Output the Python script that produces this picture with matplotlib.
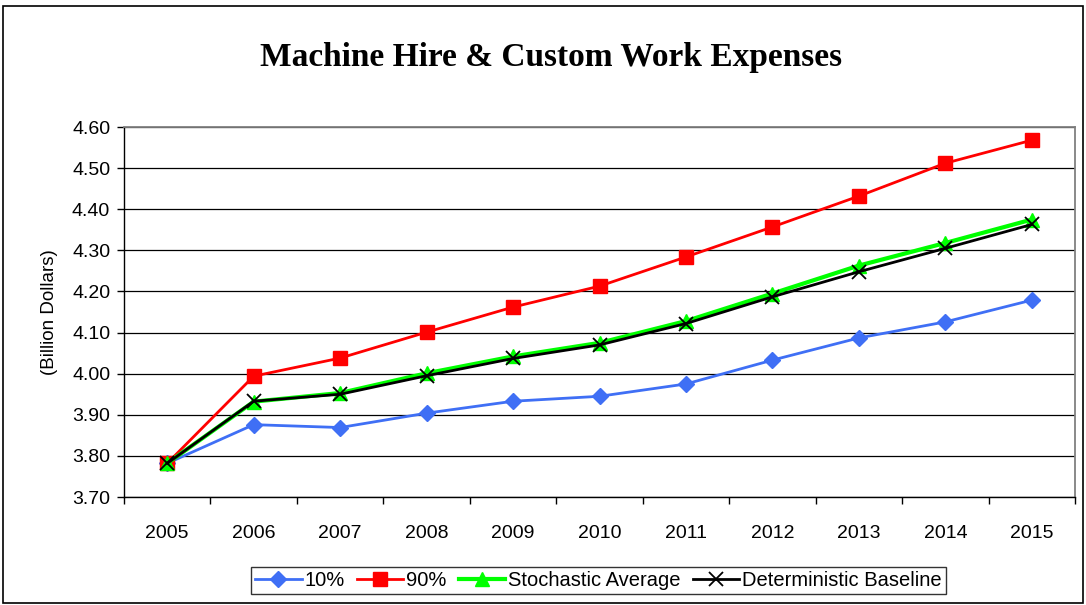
import matplotlib
matplotlib.use("Agg")
import matplotlib.pyplot as plt
from matplotlib.patches import Rectangle
import numpy as np

years = ["2005", "2006", "2007", "2008", "2009", "2010", "2011", "2012", "2013", "2014", "2015"]
p10 = [3.782, 3.876, 3.869, 3.904, 3.933, 3.945, 3.975, 4.033, 4.087, 4.126, 4.179]
p90 = [3.782, 3.994, 4.038, 4.101, 4.162, 4.213, 4.284, 4.357, 4.432, 4.512, 4.568]
stoch = [3.782, 3.932, 3.953, 4.001, 4.042, 4.075, 4.128, 4.195, 4.263, 4.318, 4.375]
determ = [3.782, 3.933, 3.950, 3.995, 4.037, 4.070, 4.122, 4.187, 4.248, 4.305, 4.363]
yticks = [3.70, 3.80, 3.90, 4.00, 4.10, 4.20, 4.30, 4.40, 4.50, 4.60]

fig = plt.figure(figsize=(10.86, 6.05), dpi=100)
fig.patches.append(Rectangle((0.003, 0.003), 0.994, 0.987, transform=fig.transFigure,
                             fill=False, edgecolor="black", linewidth=1.2))
ax = fig.add_axes([0.1142, 0.1785, 0.8757, 0.6115])
x = np.arange(len(years))

lw = 2.0
ax.plot(x, p10, color="#3F6FF5", lw=lw, marker="D", ms=8, label="10%", zorder=3)
ax.plot(x, p90, color="#FF0000", lw=lw, marker="s", ms=10, label="90%", zorder=3)
ax.plot(x, stoch, color="#00FF00", lw=lw + 1, marker="^", ms=10, label="Stochastic Average", zorder=4)
ax.plot(x, determ, color="black", lw=lw, marker="x", ms=10, mew=1.3, label="Deterministic Baseline", zorder=5)

ax.set_xlim(-0.5, len(years) - 0.5)
ax.set_ylim(3.70, 4.60)
ax.set_yticks(yticks)
ax.set_yticklabels([f"{v:.2f}" for v in yticks], fontfamily="Liberation Sans", fontsize=14)
ax.set_xticks(x)
ax.set_xticklabels(years, fontfamily="Liberation Sans", fontsize=14)
ax.set_xticks(np.arange(-0.5, len(years)), minor=True)
ax.tick_params(axis="x", which="major", length=0, pad=20)
ax.tick_params(axis="x", which="minor", length=5, width=1, direction="out")
ax.tick_params(axis="y", length=5, width=1, direction="out", pad=5)
ax.grid(axis="y", color="black", lw=0.9)
ax.set_axisbelow(True)
for s in ["top", "right"]:
    ax.spines[s].set_color("#808080")
    ax.spines[s].set_linewidth(1.3)
for s in ["left", "bottom"]:
    ax.spines[s].set_color("black")
    ax.spines[s].set_linewidth(1.0)

ax.set_ylabel("(Billion Dollars)", fontfamily="Liberation Sans", fontsize=13.5, labelpad=10)

fig.text(0.507, 0.905, "Machine Hire & Custom Work Expenses", ha="center", va="center",
         fontfamily="Liberation Serif", fontweight="bold", fontsize=24)

leg = fig.legend(loc="center", bbox_to_anchor=(0.551, 0.041), ncol=4, frameon=True, fancybox=False,
                 edgecolor="black", prop={"family": "Liberation Sans", "size": 14.5},
                 handlelength=2.3, handletextpad=0.15, columnspacing=0.6, borderpad=0.2)
leg.get_frame().set_linewidth(1.0)

fig.savefig("out.png", dpi=100)
